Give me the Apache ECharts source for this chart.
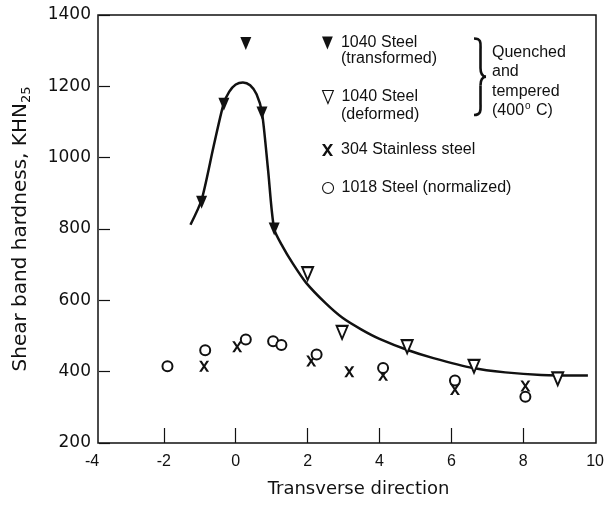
<!DOCTYPE html>
<html>
<head>
<meta charset="utf-8">
<script src="https://cdn.jsdelivr.net/npm/echarts@6/dist/echarts.min.js"></script>
<style>
  html, body { margin: 0; padding: 0; background: #fff; }
  #chart { width: 607px; height: 505px; }
</style>
</head>
<body>
<div id="chart"></div>
<script>
// values: [transverse position, hardness KHN25]
const transformed = [[-0.95, 875], [-0.33, 1150], [0.28, 1320], [0.73, 1125], [1.07, 800]];
const deformed = [[2.0, 675], [2.96, 510], [4.77, 470], [6.63, 415], [8.96, 380]];
const stainless = [[-0.88, 415], [0.04, 470], [2.1, 430], [3.16, 400], [4.1, 390], [6.1, 350], [8.06, 360]];
const normalized = [[-1.9, 415], [-0.85, 460], [0.28, 490], [1.04, 485], [1.27, 475], [2.25, 448], [4.1, 410], [6.1, 375], [8.06, 330]];

// hand drawn trend line through the 1040 steel points
const trendLine = [
  [-1.26, 812], [-0.95, 882], [-0.62, 1030], [-0.34, 1150], [-0.18, 1185], [0.0, 1205],
  [0.2, 1211], [0.4, 1203], [0.58, 1178], [0.73, 1127], [0.9, 965], [1.07, 800],
  [1.31, 750], [1.59, 703], [1.96, 649], [2.5, 592], [2.97, 551], [3.5, 518],
  [4.0, 492], [4.8, 460], [5.5, 438], [6.6, 410], [7.5, 398], [8.5, 391], [9.8, 389]
];

const xTicks = [-2, 0, 2, 4, 6, 8];
const seriesNames = ['1040 Steel (transformed)', '1040 Steel (deformed)', '304 Stainless steel', '1018 Steel (normalized)'];
const legendLabels = ['1040 Steel', '1040 Steel', '304 Stainless steel', '1018 Steel (normalized)'];

const sans = '"Liberation Sans", Arial, sans-serif';
const wide = '"DejaVu Sans", sans-serif';
const ink = '#111';

const crossPath = 'path://M0,0 L2.6,0 L5,3.7 L7.4,0 L10,0 L6.3,5.5 L10,11 L7.4,11 L5,7.3 L2.6,11 L0,11 L3.7,5.5 Z';
// downward triangle for the legend (scatter symbols are rotated instead)
const downTriangle = 'path://M0,0 L10,0 L5,12 Z';
const legendIcons = [downTriangle, downTriangle, crossPath, 'circle'];
const legendIconStyles = [
  { color: ink, borderWidth: 0 },
  { color: '#fff', borderColor: ink, borderWidth: 1.1 },
  { color: ink, borderWidth: 0 },
  { color: '#fff', borderColor: ink, borderWidth: 1.1 },
];

const chart = echarts.init(document.getElementById('chart'));

const legendTops = [35, 89, 142, 180];
const legends = seriesNames.map((name, i) => ({
  data: [{ name, icon: legendIcons[i], itemStyle: legendIconStyles[i] }],
  orient: 'vertical',
  left: 322,
  top: legendTops[i],
  padding: 0,
  itemWidth: 11,
  itemHeight: 13,
  selectedMode: false,
  formatter: () => legendLabels[i],
  textStyle: {
    fontFamily: sans,
    fontSize: 16,
    color: ink,
    lineHeight: 16,
    padding: [0, 0, 0, 3],
  },
}));

// curly brace next to the two 1040 steel entries
const braceStyle = { fill: 'none', stroke: ink, lineWidth: 2.6 };
const brace = [
  { type: 'bezierCurve', shape: { x1: 474, y1: 38.5, cpx1: 482, cpy1: 38.5, cpx2: 480.5, cpy2: 44, x2: 480.5, y2: 50 } },
  { type: 'line', shape: { x1: 480.5, y1: 50, x2: 480.5, y2: 68 } },
  { type: 'bezierCurve', shape: { x1: 480.5, y1: 68, cpx1: 480.5, cpy1: 74, cpx2: 482, cpy2: 76.5, x2: 486, y2: 76.8 } },
  { type: 'bezierCurve', shape: { x1: 486, y1: 76.8, cpx1: 482, cpy1: 77, cpx2: 480.5, cpy2: 79.5, x2: 480.5, y2: 85.5 } },
  { type: 'line', shape: { x1: 480.5, y1: 85.5, x2: 480.5, y2: 103 } },
  { type: 'bezierCurve', shape: { x1: 480.5, y1: 103, cpx1: 480.5, cpy1: 109, cpx2: 482, cpy2: 115, x2: 474, y2: 115 } },
].map(el => Object.assign(el, { style: braceStyle }));

const option = {
  animation: false,
  backgroundColor: '#fff',
  grid: [
    { left: 91, right: 9, top: 15, bottom: 62 },
    { left: 98, right: 11, top: 15, bottom: 62, show: true, borderColor: ink, borderWidth: 1.5, backgroundColor: 'transparent' },
  ],
  xAxis: [
    {
      type: 'value',
      gridIndex: 0,
      min: -4,
      max: 10,
      interval: 2,
      splitLine: { show: false },
      axisLine: { show: false, onZero: false },
      axisTick: { inside: true, length: 15, lineStyle: { color: ink, width: 1.2 }, customValues: xTicks },
      axisLabel: { fontFamily: sans, fontSize: 16, color: ink, margin: 11 },
      name: 'Transverse direction',
      nameLocation: 'middle',
      nameGap: 37,
      nameTextStyle: { fontFamily: wide, fontSize: 18, color: ink, padding: [0, 0, 0, 30] },
    },
    { type: 'value', gridIndex: 1, min: -3.8, max: 10, show: false },
  ],
  yAxis: [
    {
      type: 'value',
      gridIndex: 0,
      min: 200,
      max: 1400,
      interval: 200,
      offset: -7,
      splitLine: { show: false },
      axisLine: { show: false, onZero: false },
      axisTick: { inside: true, length: 11, lineStyle: { color: ink, width: 1.2 } },
      axisLabel: { fontFamily: wide, fontSize: 17, color: ink, margin: 8, formatter: v => String(v) },
      name: 'Shear band hardness, KHN{sub|25}',
      nameLocation: 'middle',
      nameGap: 66,
      nameTextStyle: {
        fontFamily: wide,
        fontSize: 20,
        color: ink,
        lineHeight: 25,
        rich: {
          sub: { fontFamily: wide, fontSize: 13, color: ink, lineHeight: 13, verticalAlign: 'bottom' },
        },
      },
    },
    { type: 'value', gridIndex: 1, min: 200, max: 1400, show: false },
  ],
  legend: legends,
  graphic: [
    {
      type: 'text', left: 341, top: 51,
      style: { text: '(transformed)', fontFamily: sans, fontSize: 16, fill: ink },
    },
    {
      type: 'text', left: 341, top: 107,
      style: { text: '(deformed)', fontFamily: sans, fontSize: 16, fill: ink },
    },
    ...brace,
    {
      type: 'text', left: 492, top: 43,
      style: {
        text: 'Quenched\nand\ntempered\n(400{sup|o} C)',
        fontFamily: sans, fontSize: 16, fill: ink, lineHeight: 19.3,
        rich: { sup: { fontFamily: sans, fontSize: 10, fill: ink, verticalAlign: 'top', lineHeight: 19.3, padding: [0, 1, 0, 1] } },
      },
    },
  ],
  series: [
    {
      name: 'trend',
      type: 'line',
      data: trendLine,
      smooth: 0.25,
      showSymbol: false,
      lineStyle: { color: ink, width: 2.5 },
      silent: true,
      z: 1,
    },
    {
      name: seriesNames[0],
      type: 'scatter',
      data: transformed,
      symbol: 'triangle',
      symbolRotate: 180,
      symbolSize: [11, 13],
      itemStyle: { color: ink, opacity: 1 },
      z: 3,
    },
    {
      name: seriesNames[1],
      type: 'scatter',
      data: deformed,
      symbol: 'emptyTriangle',
      symbolRotate: 180,
      symbolSize: [11, 13],
      itemStyle: { color: ink, borderColor: ink, borderWidth: 1.1, opacity: 1 },
      z: 3,
    },
    {
      name: seriesNames[2],
      type: 'scatter',
      data: stainless,
      symbol: crossPath,
      symbolSize: [10, 11],
      itemStyle: { color: ink, opacity: 1 },
      z: 3,
    },
    {
      name: seriesNames[3],
      type: 'scatter',
      data: normalized,
      symbol: 'emptyCircle',
      symbolSize: 10,
      itemStyle: { color: ink, borderColor: ink, borderWidth: 1.1, opacity: 1 },
      z: 3,
    },
  ],
};

chart.setOption(option);
</script>
</body>
</html>
